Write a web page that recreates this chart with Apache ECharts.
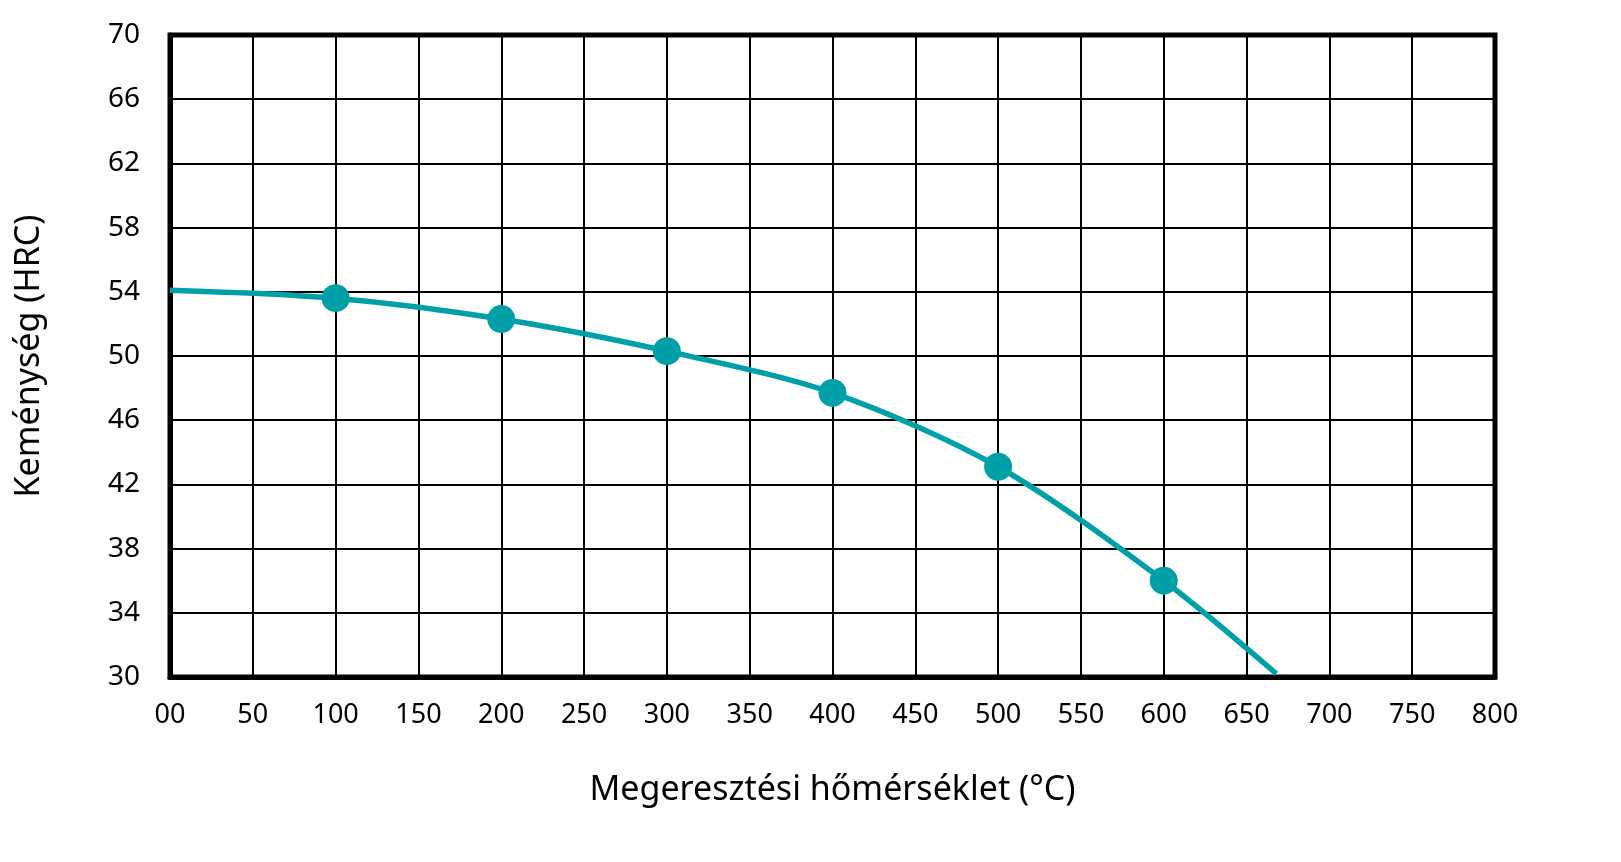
<!DOCTYPE html>
<html lang="hu">
<head>
<meta charset="UTF-8" />
<title>Keménység</title>
<script src="https://cdn.jsdelivr.net/npm/echarts@6.0.0/dist/echarts.min.js"></script>
<style>
    html, body { margin: 0; padding: 0; background: #fff; }
    #chart { width: 1621px; height: 862px; }
</style>
</head>
<body>
<div id="chart"></div>
<script>
    // megeresztési hőmérséklet (°C) és keménység (HRC)
    const curveTemps = [0, 100, 200, 300, 400, 500, 600, 668];
    const curveHardness = [54.1, 53.6, 52.3, 50.3, 47.7, 43.1, 36.0, 30.2];
    // mért pontok (jelölők)
    const markTemps = [100, 200, 300, 400, 500, 600];
    const markHardness = [53.6, 52.3, 50.3, 47.7, 43.1, 36.0];

    const xName = "Megeresztési hőmérséklet (°C)";
    const yName = "Keménység (HRC)";
    const font = "'Noto Sans', sans-serif";
    const teal = "#00A0A8";

    const chart = echarts.init(document.getElementById("chart"));
    chart.setOption({
        animation: false,
        grid: {
            left: 170,
            right: 126,
            top: 35,
            bottom: 185,
            show: true,
            borderColor: "#000",
            borderWidth: 5,
        },
        xAxis: {
            type: "value",
            min: 0,
            max: 800,
            interval: 50,
            name: xName,
            nameLocation: "middle",
            nameGap: 96,
            nameTextStyle: { fontFamily: font, fontSize: 34, color: "#000" },
            axisLine: { show: true, lineStyle: { color: "#000", width: 5 } },
            axisTick: { show: false },
            axisLabel: {
                margin: 25,
                fontFamily: font,
                fontSize: 27,
                color: "#000",
                formatter: (v) => (v === 0 ? "00" : String(v)),
            },
            splitLine: { show: true, lineStyle: { color: "#000", width: 2 } },
        },
        yAxis: {
            type: "value",
            min: 30,
            max: 70,
            interval: 4,
            name: yName,
            nameLocation: "middle",
            nameGap: 124,
            nameTextStyle: { fontFamily: font, fontSize: 34, color: "#000" },
            axisLine: { show: true, lineStyle: { color: "#000", width: 5 } },
            axisTick: { show: false },
            axisLabel: {
                margin: 30,
                fontFamily: font,
                fontSize: 28,
                color: "#000",
            },
            splitLine: { show: true, lineStyle: { color: "#000", width: 2 } },
        },
        series: [
            {
                type: "line",
                smooth: 0.3,
                showSymbol: false,
                data: curveTemps.map((t, i) => [t, curveHardness[i]]),
                lineStyle: { color: teal, width: 5.5 },
                z: 3,
            },
            {
                type: "scatter",
                symbolSize: 28,
                data: markTemps.map((t, i) => [t, markHardness[i]]),
                itemStyle: { color: teal, opacity: 1 },
                z: 4,
            },
        ],
    });
</script>
</body>
</html>
